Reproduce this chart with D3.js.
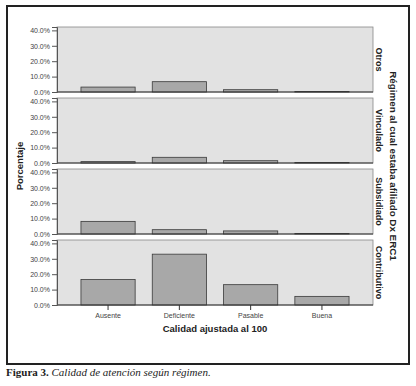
<!DOCTYPE html>
<html>
<head>
<meta charset="utf-8">
<script src="https://cdn.jsdelivr.net/npm/d3@7"></script>
<style>
  body { margin: 0; background: #fff; }
  svg { display: block; }
</style>
</head>
<body>
<div id="chart"></div>
<script>
// Data
var categories = ["Ausente", "Deficiente", "Pasable", "Buena"];
var regimes = ["Otros", "Vinculado", "Subsidiado", "Contributivo"];
var otrosValues = [3.2, 6.7, 1.5, 0.3];
var vinculadoValues = [0.9, 3.7, 1.5, 0.3];
var subsidiadoValues = [8.2, 2.8, 2.0, 0.3];
var contributivoValues = [16.6, 33.0, 13.2, 5.6];
var yTicks = [0, 10, 20, 30, 40];

var seriesByRegime = [otrosValues, vinculadoValues, subsidiadoValues, contributivoValues];

var width = 416, height = 386;
var svg = d3.select("#chart").append("svg")
    .attr("width", width)
    .attr("height", height);

// outer frame
svg.append("rect")
    .attr("x", 7).attr("y", 6)
    .attr("width", 402).attr("height", 358)
    .attr("fill", "#fff")
    .attr("stroke", "#222")
    .attr("stroke-width", 2);

var plotLeft = 57, plotRight = 373;
var panelTop = 27, panelH = 65, panelGap = 6;

var x = d3.scaleBand()
    .domain(categories)
    .range([plotLeft, plotRight])
    .paddingInner(0.24)
    .paddingOuter(0.336);

var tickFont = "Liberation Sans, Arial, sans-serif";

seriesByRegime.forEach(function(values, i) {
    var top = panelTop + i * (panelH + panelGap);
    var y = d3.scaleLinear().domain([0, 42.2]).range([top + panelH, top]);

    var g = svg.append("g");

    g.append("rect")
        .attr("x", plotLeft).attr("y", top)
        .attr("width", plotRight - plotLeft).attr("height", panelH)
        .attr("fill", "#e2e2e2")
        .attr("stroke", "#888")
        .attr("stroke-width", 0.8);

    g.selectAll(".bar")
        .data(values)
        .join("rect")
        .attr("class", "bar")
        .attr("x", function(d, j) { return x(categories[j]); })
        .attr("y", function(d) { return y(d); })
        .attr("width", x.bandwidth())
        .attr("height", function(d) { return y(0) - y(d); })
        .attr("fill", "#a8a8a8")
        .attr("stroke", "#3a3a3a")
        .attr("stroke-width", 0.8);

    // baseline
    g.append("line")
        .attr("x1", plotLeft).attr("x2", plotRight)
        .attr("y1", y(0)).attr("y2", y(0))
        .attr("stroke", "#333")
        .attr("stroke-width", 1);

    var yAxis = g.append("g")
        .attr("transform", "translate(" + plotLeft + ",0)")
        .call(d3.axisLeft(y).tickValues(yTicks)
            .tickFormat(function(d) { return d.toFixed(1) + "%"; })
            .tickSize(5).tickPadding(2));
    yAxis.select(".domain").attr("stroke", "#555");
    yAxis.selectAll(".tick line").attr("stroke", "#555");
    yAxis.selectAll("text")
        .attr("font-family", tickFont)
        .attr("font-size", 7)
        .attr("fill", "#444");

    // facet label
    svg.append("text")
        .attr("transform", "translate(" + 378 + "," + (top + panelH / 2) + ") rotate(90)")
        .attr("text-anchor", "middle")
        .attr("dominant-baseline", "middle")
        .attr("font-family", tickFont)
        .attr("font-weight", "bold")
        .attr("font-size", 9)
        .attr("fill", "#222")
        .text(regimes[i]);
});

var bottom = panelTop + 4 * panelH + 3 * panelGap;

var xAxis = svg.append("g")
    .attr("transform", "translate(0," + bottom + ")")
    .call(d3.axisBottom(x).tickSize(5).tickPadding(3));
xAxis.select(".domain").remove();
xAxis.selectAll(".tick line").attr("stroke", "#333");
xAxis.selectAll("text")
    .attr("font-family", tickFont)
    .attr("font-size", 7)
    .attr("fill", "#444");

// axis titles
svg.append("text")
    .attr("x", (plotLeft + plotRight) / 2)
    .attr("y", 332)
    .attr("text-anchor", "middle")
    .attr("font-family", tickFont)
    .attr("font-weight", "bold")
    .attr("font-size", 9.5)
    .attr("fill", "#222")
    .text("Calidad ajustada al 100");

svg.append("text")
    .attr("transform", "translate(23," + ((panelTop + bottom) / 2) + ") rotate(-90)")
    .attr("text-anchor", "middle")
    .attr("font-family", tickFont)
    .attr("font-weight", "bold")
    .attr("font-size", 9.5)
    .attr("fill", "#222")
    .text("Porcentaje");

svg.append("text")
    .attr("transform", "translate(393," + ((panelTop + bottom) / 2) + ") rotate(90)")
    .attr("text-anchor", "middle")
    .attr("dominant-baseline", "middle")
    .attr("font-family", tickFont)
    .attr("font-weight", "bold")
    .attr("font-size", 9.8)
    .attr("fill", "#222")
    .text("Régimen al cual estaba afiliado Dx ERC1");

// caption
var cap = svg.append("text")
    .attr("x", 6)
    .attr("y", 376)
    .attr("font-family", "Liberation Serif, Times New Roman, serif")
    .attr("font-size", 11)
    .attr("fill", "#222");
cap.append("tspan").attr("font-weight", "bold").text("Figura 3. ");
cap.append("tspan").attr("font-style", "italic").text("Calidad de atención según régimen.");
</script>
</body>
</html>
